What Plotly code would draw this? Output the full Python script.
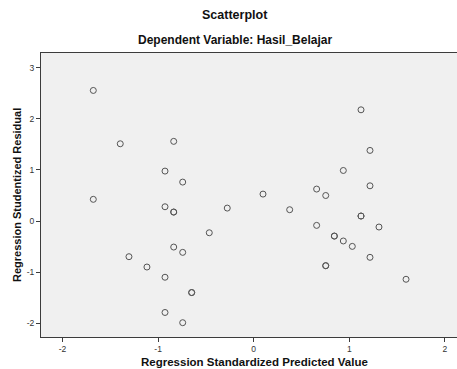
import plotly.graph_objects as go

predicted = [-1.678, -1.396, -0.837, -0.928, -0.743, -1.678, -0.928, -0.837, -0.837,
             -0.277, -0.465, -0.837, -0.743, -1.305, -1.117, -0.928, -0.649, -0.649,
             -0.928, -0.743, 1.122, 1.216, 0.937, 0.658, 1.216, 0.097, 0.753, 0.376,
             1.122, 1.122, 1.31, 0.658, 0.843, 0.843, 0.937, 1.031, 1.216, 0.753,
             0.753, 1.593]
residual = [2.557, 1.513, 1.56, 0.978, 0.763, 0.425, 0.28, 0.176, 0.176,
            0.254, -0.229, -0.509, -0.613, -0.698, -0.9, -1.10, -1.40, -1.40,
            -1.79, -1.99, 2.178, 1.383, 0.99, 0.626, 0.69, 0.528, 0.50, 0.222,
            0.098, 0.098, -0.117, -0.085, -0.294, -0.294, -0.39, -0.496, -0.71, -0.874,
            -0.874, -1.14]

x_ticks = [-2, -1, 0, 1, 2]
y_ticks = [-2, -1, 0, 1, 2, 3]

FONT = "Liberation Sans, Arial, sans-serif"

fig = go.Figure()
fig.add_trace(go.Scatter(
    x=predicted, y=residual, mode="markers",
    marker=dict(symbol="circle-open", size=6, color="#555555", line=dict(width=1)),
    hoverinfo="x+y", showlegend=False,
))

axis_common = dict(
    showgrid=False, zeroline=False, showline=True, linecolor="#3c3c3c", linewidth=1,
    ticks="outside", ticklen=4, tickcolor="#3c3c3c", tickwidth=1,
    tickfont=dict(family=FONT, size=8.5, color="#333333"),
    automargin=False,
)

fig.update_xaxes(range=[-2.225, 2.126], tickvals=x_ticks, mirror=True,
                 ticktext=[str(v) for v in x_ticks], **axis_common)
fig.update_yaxes(range=[-2.27, 3.29], tickvals=y_ticks, mirror=False,
                 ticktext=[str(v) for v in y_ticks], **axis_common)

TITLE_X = 0.466

fig.update_layout(
    width=457, height=369,
    margin=dict(l=41, r=0, t=53, b=32, autoexpand=False),
    plot_bgcolor="#F0F0F0", paper_bgcolor="#FFFFFF",
    font=dict(family=FONT, color="#000000"),
    annotations=[
        dict(text="<b>Scatterplot</b>", xref="paper", yref="paper", x=TITLE_X, y=1,
             xanchor="center", yanchor="middle",
             yshift=38, showarrow=False, font=dict(family=FONT, size=12.5, color="#111")),
        dict(text="<b>Dependent Variable: Hasil_Belajar</b>", xref="paper", yref="paper",
             x=TITLE_X, y=1, yshift=13, xanchor="center", yanchor="middle", showarrow=False,
             font=dict(family=FONT, size=12, color="#111")),
        dict(text="<b>Regression Standardized Predicted Value</b>", xref="paper", yref="paper",
             x=(254.5 - 41) / 416, y=0, yshift=-25, xanchor="center", yanchor="middle",
             showarrow=False, font=dict(family=FONT, size=11.5, color="#111")),
        dict(text="<b>Regression Studentized Residual</b>", xref="paper", yref="paper",
             x=0, y=0.5, xshift=-24, xanchor="center", yanchor="middle",
             textangle=-90, showarrow=False,
             font=dict(family=FONT, size=11, color="#111")),
    ],
)

fig.write_html("out.html", config={"displayModeBar": False},
               post_script="document.body.style.margin='0px';")
